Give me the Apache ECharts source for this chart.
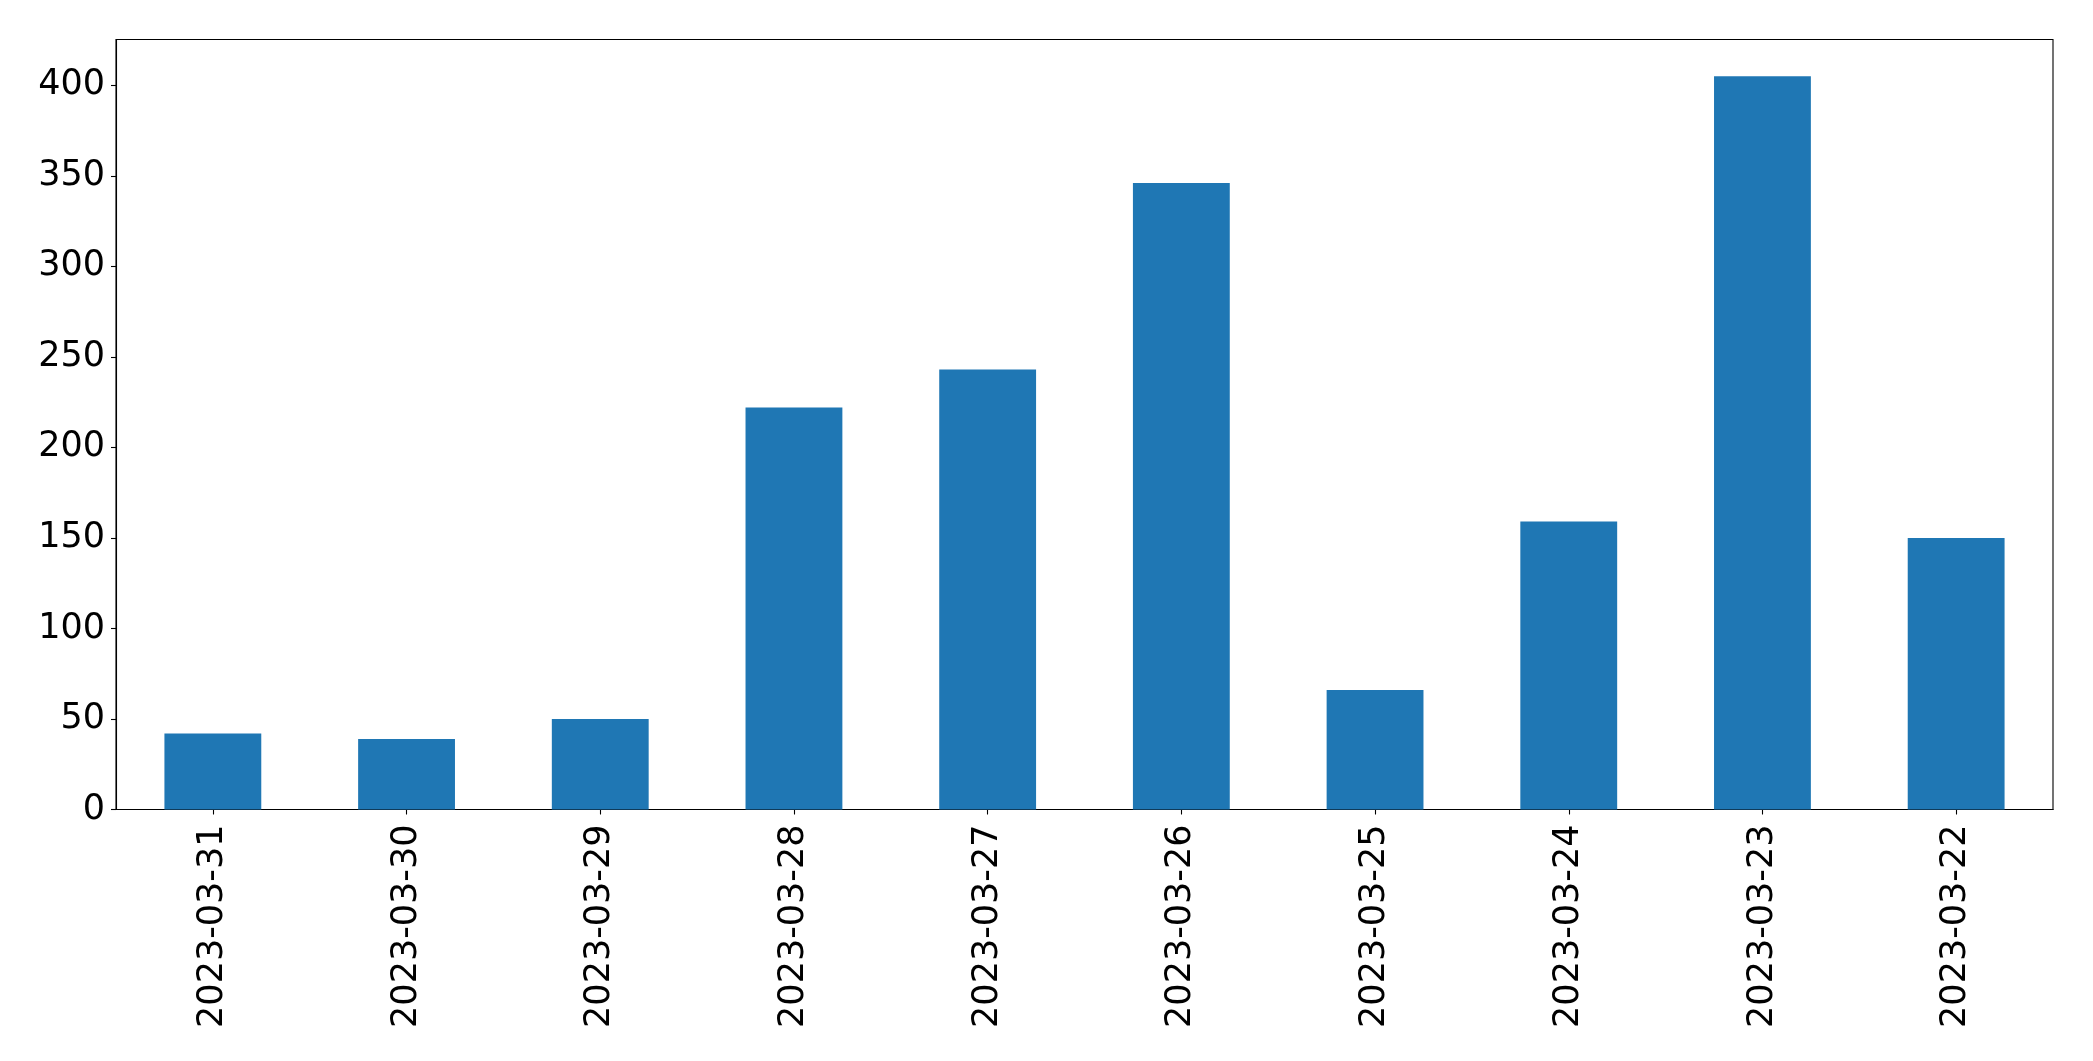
<!DOCTYPE html>
<html>
<head>
<meta charset="utf-8">
<script src="https://cdn.jsdelivr.net/npm/echarts@6/dist/echarts.min.js"></script>
<style>
html,body{margin:0;padding:0;background:#fff;}
#chart{width:2093px;height:1061px;}
</style>
</head>
<body>
<div id="chart"></div>
<script>
const categories = ['2023-03-31','2023-03-30','2023-03-29','2023-03-28','2023-03-27','2023-03-26','2023-03-25','2023-03-24','2023-03-23','2023-03-22'];
const values = [42, 39, 50, 222, 243, 346, 66, 159, 405, 150];
const yTicks = [0, 50, 100, 150, 200, 250, 300, 350, 400];

const chart = echarts.init(document.getElementById('chart'), null, {renderer: 'canvas'});
const font = 'DejaVu Sans';
chart.setOption({
  animation: false,
  backgroundColor: '#fff',
  grid: {left: 116, right: 40, top: 39.5, bottom: 251.5, show: true, borderColor: '#000', borderWidth: 1.1, containLabel: false},
  xAxis: {
    type: 'category',
    data: categories,
    axisLine: {show: true, lineStyle: {color: '#000', width: 1.1}},
    axisTick: {show: true, alignWithLabel: true, length: 5, lineStyle: {color: '#000', width: 1.1}},
    axisLabel: {rotate: 90, margin: 15, fontSize: 35, fontFamily: font, color: '#000', interval: 0},
    splitLine: {show: false}
  },
  yAxis: {
    type: 'value',
    min: 0,
    max: 425.25,
    axisLine: {show: true, lineStyle: {color: '#000', width: 1.1}},
    axisTick: {show: true, length: 5, customValues: yTicks, lineStyle: {color: '#000', width: 1.1}},
    axisLabel: {margin: 11, fontSize: 35, fontFamily: font, color: '#000', customValues: yTicks},
    splitLine: {show: false}
  },
  series: [{
    type: 'bar',
    data: values,
    barWidth: '50%',
    itemStyle: {color: '#1f77b4'}
  }]
});
</script>
</body>
</html>
